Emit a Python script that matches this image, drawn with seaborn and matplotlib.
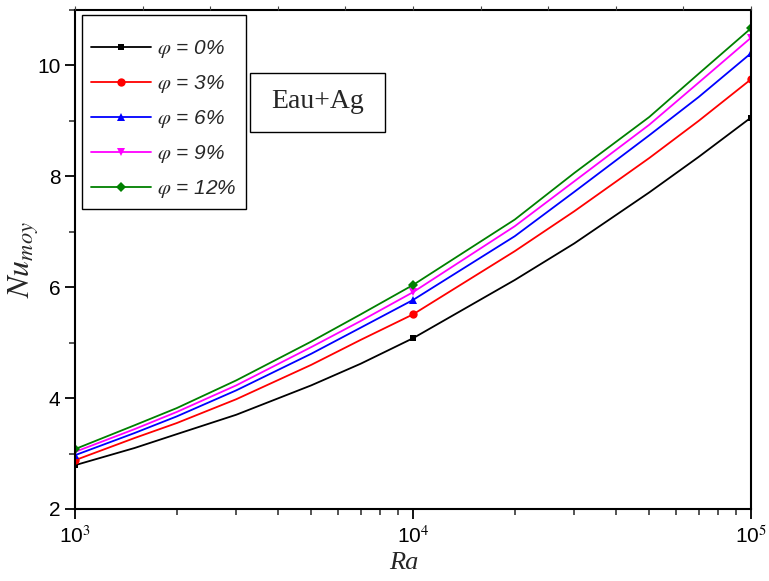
import matplotlib
matplotlib.use("Agg")
import matplotlib.pyplot as plt
import matplotlib.patches as mpatches
import seaborn as sns
import numpy as np
from matplotlib.ticker import LogLocator, MultipleLocator, NullFormatter

# Data (curve values at several Ra)
ra = [1000, 1500, 2000, 3000, 5000, 7000, 10000, 20000, 30000, 50000, 70000, 100000]
nu_0 = [2.79, 3.10, 3.35, 3.70, 4.23, 4.62, 5.08, 6.13, 6.79, 7.71, 8.35, 9.06]
nu_3 = [2.88, 3.28, 3.55, 3.98, 4.60, 5.05, 5.51, 6.65, 7.37, 8.33, 9.00, 9.75]
nu_6 = [2.97, 3.37, 3.67, 4.14, 4.80, 5.27, 5.77, 6.92, 7.72, 8.74, 9.43, 10.22]
nu_9 = [3.03, 3.44, 3.75, 4.23, 4.92, 5.39, 5.91, 7.10, 7.91, 8.93, 9.69, 10.50]
nu_12 = [3.08, 3.51, 3.82, 4.32, 5.02, 5.51, 6.04, 7.22, 8.06, 9.07, 9.85, 10.67]
labels = ["0%", "3%", "6%", "9%", "12%"]
marker_idx = [0, 6, 11]  # computed points at Ra = 1e3, 1e4, 1e5

sns.set_style("ticks")
plt.rcParams["font.family"] = ["Liberation Sans", "DejaVu Sans"]
plt.rcParams["mathtext.fontset"] = "stix"

fig = plt.figure(figsize=(7.69, 5.81), dpi=100)
ax = fig.add_axes([75 / 769, 72 / 581, 676 / 769, 499 / 581])

series = [nu_0, nu_3, nu_6, nu_9, nu_12]
colors = ["#000000", "#ff0000", "#0000ff", "#ff00ff", "#008000"]
markers = ["s", "o", "^", "v", "D"]
msizes = [5, 6, 6, 6, 5]

for vals, lab, c, m, ms in zip(series, labels, colors, markers, msizes):
    sns.lineplot(x=ra, y=vals, ax=ax, color=c, marker=m, markersize=ms,
                 markeredgewidth=0, markevery=marker_idx, linewidth=1.3,
                 label=r"$\varphi$ = " + lab)

ax.set_xscale("log")
ax.set_xlim(1000, 100000)
ax.set_ylim(2, 11)
ax.set_xticks([1000, 10000, 100000])
ax.set_xticklabels([r"10$^3$", r"10$^4$", r"10$^5$"])
ax.xaxis.set_minor_locator(LogLocator(base=10, subs=np.arange(2, 10)))
ax.xaxis.set_minor_formatter(NullFormatter())
ax.set_yticks([2, 4, 6, 8, 10])
ax.yaxis.set_minor_locator(MultipleLocator(1))

for s in ax.spines.values():
    s.set_linewidth(1.5)
    s.set_color("black")
ax.tick_params(axis="both", which="major", direction="out", length=7, width=1.3,
               labelsize=15, colors="black", top=False, right=False)
ax.tick_params(axis="both", which="minor", direction="out", length=4, width=1.1,
               top=False, right=False)
ax.tick_params(axis="x", which="major", pad=5)

# top axis: small linear ticks as in the reference
axt = ax.twiny()
axt.set_xlim(0, 1)
axt.set_xticks(np.linspace(0, 1, 11))
axt.tick_params(axis="x", direction="out", length=3, width=0.8, labeltop=False,
                colors="#444444")
for s in axt.spines.values():
    s.set_visible(False)

ax.set_xlabel("Ra", fontfamily="Liberation Serif", fontstyle="italic", fontsize=19)
ax.xaxis.set_label_coords(0.487, -0.086)
ax.set_ylabel(r"$Nu_{moy}$", fontsize=23, labelpad=-3)

leg = ax.legend(loc="upper left", bbox_to_anchor=(0.01, 0.99), borderaxespad=0,
                frameon=True, fancybox=False, edgecolor="black", framealpha=1,
                handlelength=2.85, handletextpad=0.3, labelspacing=0.62,
                borderpad=0.45, title=" ", title_fontsize=1,
                prop={"style": "italic", "size": 15})
leg.get_frame().set_linewidth(1.0)
leg.set_zorder(5)

box = mpatches.Rectangle((0.259, 0.7555), 0.200, 0.118, transform=ax.transAxes,
                         facecolor="white", edgecolor="black", linewidth=1.0,
                         zorder=4)
ax.add_patch(box)
ax.text(0.3587, 0.8166, "Eau+Ag", transform=ax.transAxes, ha="center",
        va="center", fontfamily="Liberation Serif", fontsize=20, zorder=6)

fig.savefig("out.png", dpi=100)
